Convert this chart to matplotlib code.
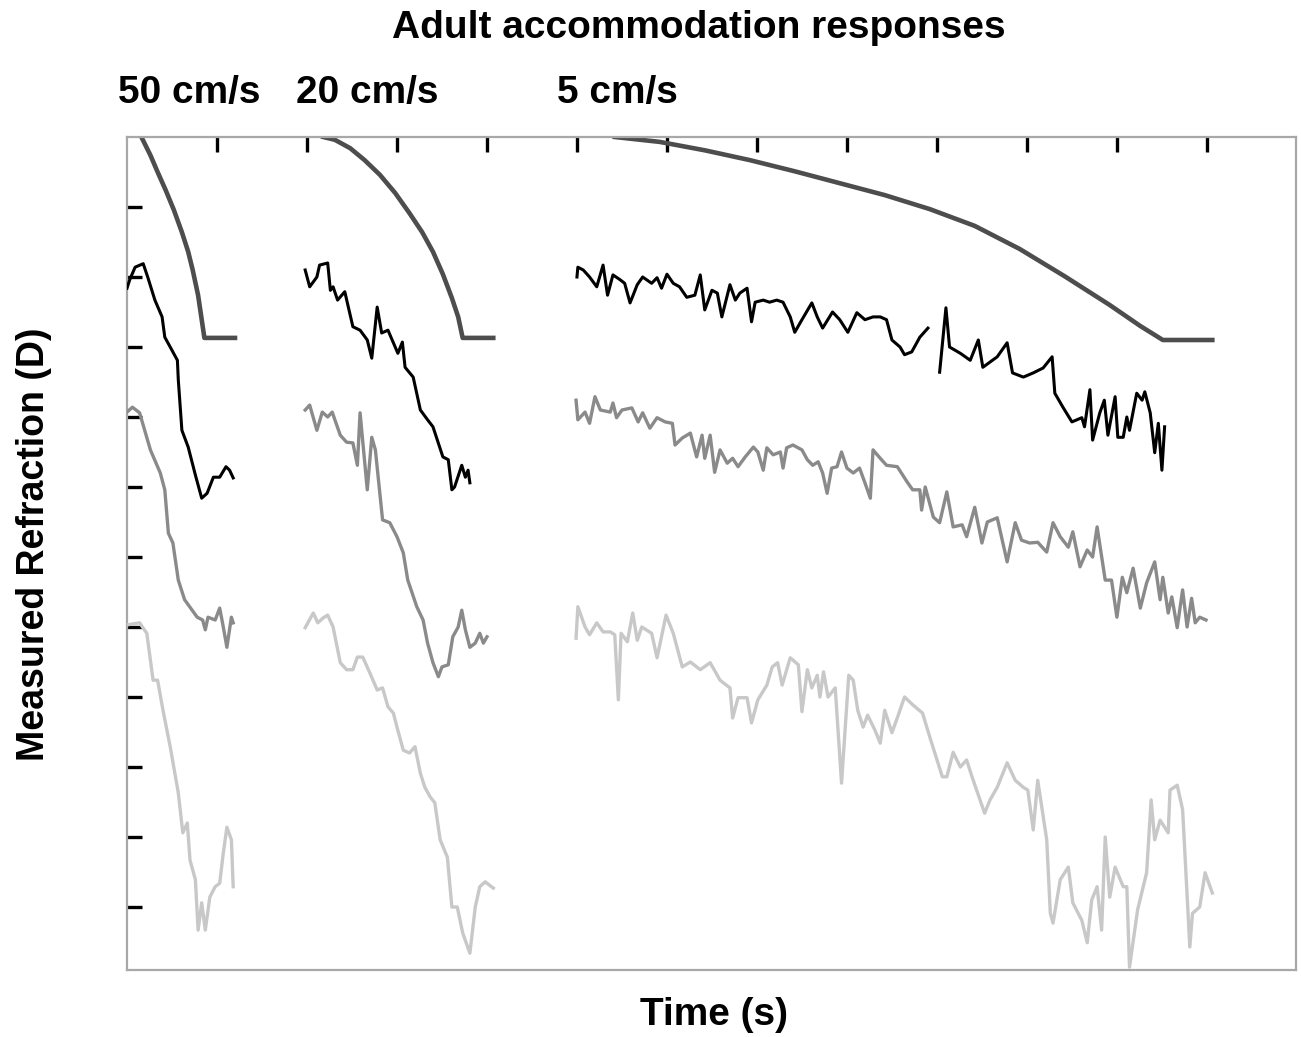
import matplotlib as mpl
import matplotlib.pyplot as plt

mpl.rcParams.update({
    "font.family": ["Liberation Sans", "DejaVu Sans"],
    "font.weight": "bold",
})

STIM_GREY = "#4d4d4d"
RESP_BLACK = "#000000"
RESP_GREY = "#8a8a8a"
RESP_LIGHT = "#c8c8c8"

TITLE = "Adult accommodation responses"
SPEED_LABELS = ["50 cm/s", "20 cm/s", "5 cm/s"]
X_LABEL = "Time (s)"
Y_LABEL = "Measured Refraction (D)"
X_TICKS = list(range(1, 13))
Y_TICKS = list(range(1, 12))

# ---- 50 cm/s ----
stim50_t = [0.16, 0.26, 0.34, 0.43, 0.52, 0.61, 0.68, 0.73, 0.79, 0.86, 1.20]
stim50_d = [12.0, 11.74, 11.5, 11.24, 10.96, 10.64, 10.36, 10.1, 9.74, 9.13, 9.13]

blk50_t = [0.0, 0.03, 0.09, 0.18, 0.23, 0.31, 0.39, 0.42, 0.48, 0.56, 0.57, 0.61,
           0.68, 0.76, 0.83, 0.89, 0.96, 1.03, 1.10, 1.14, 1.18]
blk50_d = [9.84, 9.96, 10.14, 10.19, 10.0, 9.67, 9.43, 9.14, 9.0, 8.81, 8.53, 7.81,
           7.57, 7.17, 6.84, 6.91, 7.14, 7.14, 7.29, 7.24, 7.13]

gry50_t = [0.0, 0.06, 0.14, 0.26, 0.37, 0.42, 0.46, 0.51, 0.57, 0.64, 0.78, 0.84,
           0.87, 0.90, 0.98, 1.03, 1.07, 1.11, 1.16, 1.18]
gry50_d = [8.07, 8.14, 8.06, 7.53, 7.2, 6.96, 6.34, 6.2, 5.67, 5.39, 5.14, 5.1,
           4.96, 5.14, 5.1, 5.27, 5.0, 4.71, 5.14, 5.06]

lgt50_t = [0.0, 0.14, 0.22, 0.29, 0.34, 0.40, 0.48, 0.57, 0.62, 0.67, 0.70, 0.76,
           0.79, 0.83, 0.87, 0.92, 0.98, 1.03, 1.07, 1.11, 1.16, 1.18]
lgt50_d = [5.03, 5.06, 4.91, 4.24, 4.24, 3.81, 3.29, 2.63, 2.06, 2.2, 1.67, 1.39,
           0.67, 1.06, 0.67, 1.14, 1.29, 1.34, 1.77, 2.14, 1.96, 1.29]

# ---- 20 cm/s ----
stim20_t = [2.18, 2.31, 2.48, 2.64, 2.81, 2.98, 3.14, 3.28, 3.4, 3.51, 3.61, 3.68,
            3.73, 4.07]
stim20_d = [12.0, 11.96, 11.84, 11.67, 11.46, 11.2, 10.91, 10.64, 10.36, 10.04,
            9.7, 9.43, 9.13, 9.13]

blk20_t = [1.98, 2.03, 2.11, 2.14, 2.23, 2.26, 2.29, 2.34, 2.42, 2.51, 2.59, 2.67,
           2.72, 2.78, 2.83, 2.90, 2.96, 3.01, 3.06, 3.09, 3.18, 3.26, 3.34, 3.40,
           3.51, 3.57, 3.61, 3.64, 3.72, 3.76, 3.79, 3.81]
blk20_d = [10.1, 9.86, 10.0, 10.17, 10.2, 9.81, 9.86, 9.67, 9.79, 9.29, 9.24, 9.1,
           8.84, 9.57, 9.2, 9.24, 9.06, 8.91, 9.07, 8.71, 8.57, 8.1, 7.96, 7.86,
           7.43, 7.39, 6.96, 7.0, 7.31, 7.14, 7.24, 7.06]

gry20_t = [1.98, 2.03, 2.11, 2.17, 2.23, 2.28, 2.37, 2.44, 2.51, 2.56, 2.59, 2.67,
           2.72, 2.76, 2.84, 2.92, 3.0, 3.07, 3.12, 3.22, 3.29, 3.34, 3.40, 3.46,
           3.5, 3.57, 3.62, 3.68, 3.72, 3.76, 3.81, 3.87, 3.92, 3.96, 4.0]
gry20_d = [8.1, 8.17, 7.81, 8.07, 8.0, 8.07, 7.74, 7.64, 7.63, 7.31, 8.06, 6.96,
           7.71, 7.53, 6.53, 6.49, 6.29, 6.06, 5.67, 5.29, 5.1, 4.77, 4.49, 4.29,
           4.43, 4.46, 4.86, 5.0, 5.24, 4.96, 4.71, 4.77, 4.91, 4.77, 4.86]

lgt20_t = [1.98, 2.07, 2.12, 2.18, 2.23, 2.29, 2.37, 2.44, 2.51, 2.56, 2.62, 2.70,
           2.78, 2.84, 2.90, 2.96, 3.0, 3.07, 3.14, 3.2, 3.26, 3.31, 3.37, 3.42,
           3.48, 3.56, 3.61, 3.67, 3.73, 3.81, 3.87, 3.92, 3.98, 4.07]
lgt20_d = [4.99, 5.2, 5.06, 5.13, 5.17, 5.0, 4.49, 4.39, 4.39, 4.57, 4.57, 4.34,
           4.1, 4.13, 3.86, 3.77, 3.57, 3.24, 3.2, 3.29, 2.91, 2.71, 2.57, 2.49,
           1.96, 1.71, 1.0, 1.0, 0.63, 0.34, 1.0, 1.29, 1.36, 1.27]

# ---- 5 cm/s ----
stim5_t = [5.42, 5.92, 6.42, 6.92, 7.42, 7.92, 8.42, 8.92, 9.42, 9.92, 10.42,
           10.92, 11.26, 11.51, 12.06]
stim5_d = [12.0, 11.93, 11.81, 11.67, 11.51, 11.34, 11.17, 10.97, 10.73, 10.4,
           10.01, 9.6, 9.3, 9.1, 9.1]

blk5a_t = [5.0, 5.01, 5.07, 5.14, 5.22, 5.29, 5.34, 5.4, 5.48, 5.53, 5.59, 5.67,
           5.73, 5.83, 5.89, 5.94, 6.0, 6.07, 6.14, 6.22, 6.31, 6.37, 6.42, 6.5,
           6.56, 6.61, 6.7, 6.76, 6.81, 6.89, 6.94, 6.98, 7.07, 7.14, 7.22, 7.29,
           7.37, 7.42, 7.5, 7.61, 7.67, 7.73, 7.84, 7.92, 8.01, 8.11, 8.2, 8.29,
           8.37, 8.44, 8.5, 8.59, 8.64, 8.72, 8.78, 8.81, 8.9]
blk5a_d = [10.0, 10.14, 10.1, 10.0, 9.86, 10.17, 9.74, 10.03, 9.96, 9.91, 9.63, 9.89,
           10.0, 9.91, 9.99, 9.84, 10.04, 9.91, 9.86, 9.71, 9.74, 10.03, 9.53, 9.81,
           9.77, 9.43, 9.89, 9.67, 9.77, 9.84, 9.36, 9.64, 9.67, 9.64, 9.67, 9.64,
           9.43, 9.21, 9.39, 9.63, 9.43, 9.27, 9.5, 9.39, 9.21, 9.49, 9.39, 9.43,
           9.43, 9.39, 9.1, 9.0, 8.89, 8.93, 9.07, 9.14, 9.27]

blk5b_t = [9.03, 9.1, 9.14, 9.26, 9.37, 9.46, 9.51, 9.67, 9.78, 9.84, 9.96, 10.07,
           10.18, 10.28, 10.31, 10.4, 10.5, 10.61, 10.64, 10.7, 10.73, 10.81, 10.86,
           10.9, 10.98, 11.01, 11.07, 11.11, 11.14, 11.22, 11.28, 11.31, 11.37,
           11.42, 11.46, 11.5, 11.53]
blk5b_d = [8.64, 9.56, 9.0, 8.91, 8.81, 9.1, 8.71, 8.86, 9.06, 8.63, 8.57, 8.63,
           8.7, 8.86, 8.34, 8.14, 7.93, 7.99, 7.86, 8.39, 7.67, 8.06, 8.24,
           7.74, 8.29, 7.71, 7.71, 8.0, 7.81, 8.34, 8.24, 8.36, 8.06,
           7.49, 7.91, 7.24, 7.86]

gry5_t = [4.99, 5.01, 5.09, 5.14, 5.2, 5.26, 5.37, 5.4, 5.44, 5.5, 5.61, 5.68,
          5.73, 5.81, 5.89, 5.98, 6.06, 6.09, 6.17, 6.26, 6.33, 6.39, 6.42, 6.48,
          6.53, 6.59, 6.67, 6.73, 6.79, 6.87, 6.96, 7.01, 7.07, 7.11, 7.18, 7.26,
          7.29, 7.33, 7.4, 7.5, 7.56, 7.62, 7.68, 7.73, 7.78, 7.83, 7.89, 7.94,
          8.0, 8.07, 8.14, 8.2, 8.26, 8.29, 8.37, 8.44, 8.56, 8.67, 8.73, 8.81,
          8.83, 8.87, 8.96, 9.03, 9.11, 9.18, 9.28, 9.33, 9.42, 9.5, 9.56, 9.67,
          9.78, 9.87, 9.94, 10.03, 10.12, 10.22, 10.29, 10.37, 10.46, 10.51, 10.59,
          10.67, 10.73, 10.78, 10.87, 10.94, 11.0, 11.06, 11.11, 11.18, 11.26,
          11.33, 11.42, 11.48, 11.51, 11.57, 11.61, 11.67, 11.73, 11.78, 11.83,
          11.87, 11.92, 11.99]
gry5_d = [8.24, 7.96, 8.07, 7.91, 8.29, 8.1, 8.07, 8.2, 7.99, 8.1, 8.13, 7.93,
          8.06, 7.84, 7.99, 7.93, 7.91, 7.6, 7.7, 7.77, 7.43, 7.74, 7.41, 7.74,
          7.21, 7.53, 7.34, 7.41, 7.29, 7.43, 7.57, 7.5, 7.24, 7.56, 7.46, 7.5,
          7.27, 7.56, 7.6, 7.53, 7.39, 7.31, 7.36, 7.2, 6.91, 7.27, 7.29, 7.5,
          7.27, 7.2, 7.27, 7.06, 6.84, 7.53, 7.41, 7.31, 7.29, 7.07, 6.96, 6.96,
          6.67, 7.0, 6.57, 6.49, 6.93, 6.43, 6.46, 6.29, 6.71, 6.2, 6.5, 6.56,
          5.93, 6.49, 6.24, 6.2, 6.21, 6.07, 6.49, 6.29, 6.14, 6.36, 5.86,
          6.1, 6.0, 6.43, 5.67, 5.67, 5.14, 5.71, 5.49, 5.84, 5.27,
          5.63, 5.93, 5.39, 5.71, 5.2, 5.43, 4.99, 5.53, 5.0, 5.41,
          5.06, 5.14, 5.1]

lgt5_t = [4.99, 5.01, 5.09, 5.14, 5.22, 5.29, 5.37, 5.42, 5.46, 5.49, 5.56, 5.62,
          5.67, 5.72, 5.83, 5.89, 5.99, 6.07, 6.17, 6.26, 6.37, 6.48, 6.59, 6.7,
          6.73, 6.79, 6.89, 6.94, 7.01, 7.11, 7.17, 7.23, 7.28, 7.37, 7.46, 7.5,
          7.56, 7.61, 7.67, 7.7, 7.74, 7.79, 7.87, 7.94, 8.02, 8.07, 8.12, 8.18,
          8.23, 8.31, 8.37, 8.42, 8.5, 8.57, 8.64, 8.73, 8.84, 8.92, 9.06, 9.11,
          9.18, 9.26, 9.33, 9.39, 9.53, 9.59, 9.67, 9.78, 9.87, 9.96, 10.01, 10.07,
          10.12, 10.22, 10.26, 10.29, 10.37, 10.46, 10.51, 10.61, 10.67, 10.72,
          10.78, 10.83, 10.87, 10.92, 10.98, 11.07, 11.11, 11.14, 11.23, 11.33,
          11.38, 11.42, 11.48, 11.57, 11.59, 11.67, 11.73, 11.81, 11.84, 11.92,
          11.98, 12.06]
lgt5_d = [4.84, 5.29, 5.0, 4.89, 5.06, 4.93, 4.93, 4.89, 3.96, 4.91, 4.79, 5.2,
          4.81, 5.0, 4.91, 4.56, 5.17, 4.91, 4.43, 4.5, 4.39, 4.49, 4.24, 4.13,
          3.7, 3.99, 3.99, 3.63, 3.96, 4.17, 4.43, 4.49, 4.17, 4.56, 4.46, 3.79,
          4.39, 4.13, 4.31, 4.0, 4.36, 4.0, 4.13, 2.77, 4.31, 4.24, 3.81, 3.57,
          3.74, 3.53, 3.34, 3.81, 3.49, 3.74, 4.0, 3.89, 3.77, 3.43, 2.86, 2.86,
          3.21, 3.0, 3.1, 2.86, 2.34, 2.53, 2.71, 3.06, 2.81, 2.71, 2.67, 2.1,
          2.81, 1.96, 0.91, 0.77, 1.39, 1.57, 1.06, 0.81, 0.49, 1.1,
          1.29, 0.67, 2.0, 1.14, 1.57, 1.29, 1.29, 0.14, 0.96, 1.49,
          2.53, 1.96, 2.24, 2.06, 2.67, 2.74, 2.39, 0.43, 0.91, 1.0,
          1.49, 1.2]


def panel_text(fig, px, py, text, size=28, **kw):
    w, h = fig.get_size_inches() * fig.dpi
    fig.text(px / w, 1 - py / h, text, fontsize=size, fontweight="bold", **kw)


fig = plt.figure(figsize=(13.01, 10.37), dpi=100)
ax = fig.add_axes([127 / 1301, 67 / 1037, 1169 / 1301, 833 / 1037])

for t, d in [(stim50_t, stim50_d), (stim20_t, stim20_d), (stim5_t, stim5_d)]:
    ax.plot(t, d, color=STIM_GREY, lw=3.3, zorder=2, solid_joinstyle="round")
for t, d in [(lgt50_t, lgt50_d), (lgt20_t, lgt20_d), (lgt5_t, lgt5_d)]:
    ax.plot(t, d, color=RESP_LIGHT, lw=2.4, zorder=3)
for t, d in [(gry50_t, gry50_d), (gry20_t, gry20_d), (gry5_t, gry5_d)]:
    ax.plot(t, d, color=RESP_GREY, lw=2.4, zorder=3)
for t, d in [(blk50_t, blk50_d), (blk20_t, blk20_d), (blk5a_t, blk5a_d), (blk5b_t, blk5b_d)]:
    ax.plot(t, d, color=RESP_BLACK, lw=2.2, zorder=4)

ax.set_xlim(0, 12.99)
ax.set_ylim(0.1, 12.0)
ax.set_xticks(X_TICKS)
ax.set_yticks(Y_TICKS)
ax.xaxis.set_ticks_position("top")
ax.tick_params(axis="x", direction="in", length=11, width=2.4, color="black",
               labeltop=False, labelbottom=False)
ax.tick_params(axis="y", direction="in", length=11, width=2.4, color="black",
               labelleft=False)
for sp in ax.spines.values():
    sp.set_color("#a8a8a8")
    sp.set_linewidth(1.6)

panel_text(fig, 699, 28, TITLE, ha="center", va="center")
for px, lab in zip([118, 296, 557], SPEED_LABELS):
    panel_text(fig, px, 93, lab, ha="left", va="center")
panel_text(fig, 714, 1015, X_LABEL, ha="center", va="center")
panel_text(fig, 34, 544, Y_LABEL, size=27, ha="center", va="center", rotation=90)

fig.savefig("out.png", dpi=100)
